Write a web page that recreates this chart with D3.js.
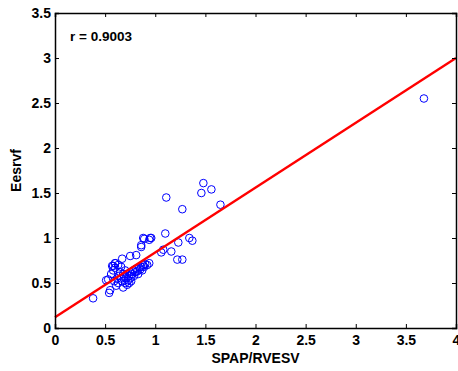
<!DOCTYPE html>
<html lang="en">
<head>
    <meta charset="UTF-8">
    <title>Eesrvf vs SPAP/RVESV</title>
    <script src="https://d3js.org/d3.v7.min.js"></script>
    <style>
        body { margin: 0; background: #fff; }
        text { font-family: "Liberation Sans", Arial, sans-serif; font-weight: bold; }
    </style>
</head>
<body>
    <script>
        const width = 458;
        const height = 371;

        // data
        const spapRvesv = [0.38, 0.54, 0.55, 0.53, 0.51, 0.58, 0.60, 0.67, 0.75, 0.81,
            0.88, 0.86, 0.95, 0.96, 0.94, 0.89, 1.10, 1.06, 1.08, 1.16, 1.23, 1.22, 1.27,
            1.34, 1.37, 0.86, 1.11, 1.27, 1.65, 1.46, 1.48, 1.56, 3.68,
            0.56, 0.58, 0.60, 0.62, 0.63, 0.64, 0.65, 0.66, 0.67, 0.68, 0.69, 0.70, 0.70,
            0.71, 0.72, 0.72, 0.73, 0.74, 0.75, 0.76, 0.77, 0.78, 0.79, 0.80, 0.81, 0.82,
            0.83, 0.84, 0.85, 0.86, 0.87, 0.88, 0.89, 0.90, 0.92, 0.94, 0.66, 0.60, 0.63,
            0.57, 0.59, 0.61, 0.68, 0.74, 0.76];
        const eesrvf = [0.33, 0.39, 0.42, 0.54, 0.53, 0.69, 0.72, 0.77, 0.80, 0.81,
            1.00, 0.90, 1.00, 1.00, 0.98, 0.99, 1.05, 0.84, 0.87, 0.85, 0.95, 0.76, 0.76,
            1.00, 0.97, 0.92, 1.45, 1.32, 1.37, 1.50, 1.61, 1.54, 2.55,
            0.60, 0.64, 0.67, 0.55, 0.50, 0.58, 0.62, 0.55, 0.52, 0.60, 0.57, 0.50, 0.64,
            0.55, 0.48, 0.60, 0.53, 0.58, 0.62, 0.56, 0.60, 0.64, 0.58, 0.62, 0.66, 0.63,
            0.60, 0.67, 0.65, 0.68, 0.64, 0.70, 0.68, 0.71, 0.70, 0.72, 0.68, 0.72, 0.70,
            0.69, 0.52, 0.47, 0.45, 0.50, 0.52];
        const fitX = [0, 4];
        const fitY = [0.12, 3.0];
        const xTicks = [0, 0.5, 1, 1.5, 2, 2.5, 3, 3.5, 4];
        const yTicks = [0, 0.5, 1, 1.5, 2, 2.5, 3, 3.5];
        const rLabel = "r = 0.9003";

        const margin = { top: 13, right: 2, bottom: 43, left: 55 };
        const w = width - margin.left - margin.right;
        const h = height - margin.top - margin.bottom;

        const svg = d3.select("body")
            .append("svg")
            .attr("width", width)
            .attr("height", height);

        const g = svg.append("g")
            .attr("transform", `translate(${margin.left},${margin.top})`);

        const x = d3.scaleLinear().domain([0, 4]).range([0, w]);
        const y = d3.scaleLinear().domain([0, 3.5]).range([h, 0]);

        // points
        g.append("g")
            .selectAll("circle")
            .data(spapRvesv.map((d, i) => [d, eesrvf[i]]))
            .join("circle")
            .attr("cx", d => x(d[0]))
            .attr("cy", d => y(d[1]))
            .attr("r", 3.8)
            .attr("fill", "none")
            .attr("stroke", "#0000ff")
            .attr("stroke-width", 1);

        // regression line
        g.append("line")
            .attr("x1", x(fitX[0]))
            .attr("y1", y(fitY[0]))
            .attr("x2", x(fitX[1]))
            .attr("y2", y(fitY[1]))
            .attr("stroke", "#ff0000")
            .attr("stroke-width", 2.4);

        // axes, ticks inward, box all round
        const tk = 4;
        const xAxis = g.append("g")
            .attr("transform", `translate(0,${h})`)
            .call(d3.axisBottom(x).tickValues(xTicks).tickSize(-tk).tickPadding(7).tickFormat(d3.format("")));
        const yAxis = g.append("g")
            .call(d3.axisLeft(y).tickValues(yTicks).tickSize(-tk).tickPadding(4).tickFormat(d3.format("")));
        const xTop = g.append("g")
            .call(d3.axisTop(x).tickValues(xTicks).tickSize(-tk).tickFormat(""));
        const yRight = g.append("g")
            .attr("transform", `translate(${w},0)`)
            .call(d3.axisRight(y).tickValues(yTicks).tickSize(-tk).tickFormat(""));

        [xAxis, yAxis, xTop, yRight].forEach(a => {
            a.selectAll("path").attr("stroke", "#000").attr("stroke-width", 1.5);
            a.selectAll("line").attr("stroke", "#000");
            a.selectAll("text")
                .attr("fill", "#000")
                .style("font-size", "14px")
                .style("font-family", "'Liberation Sans', Arial, sans-serif")
                .style("font-weight", "bold");
        });

        g.append("text")
            .attr("x", 15)
            .attr("y", 28)
            .style("font-size", "13.5px")
            .text(rLabel);

        svg.append("text")
            .attr("x", margin.left + w / 2)
            .attr("y", 363)
            .attr("text-anchor", "middle")
            .style("font-size", "14px")
            .text("SPAP/RVESV");

        svg.append("text")
            .attr("transform", `translate(21,${margin.top + h / 2}) rotate(-90)`)
            .attr("text-anchor", "middle")
            .style("font-size", "14px")
            .text("Eesrvf");
    </script>
</body>
</html>
